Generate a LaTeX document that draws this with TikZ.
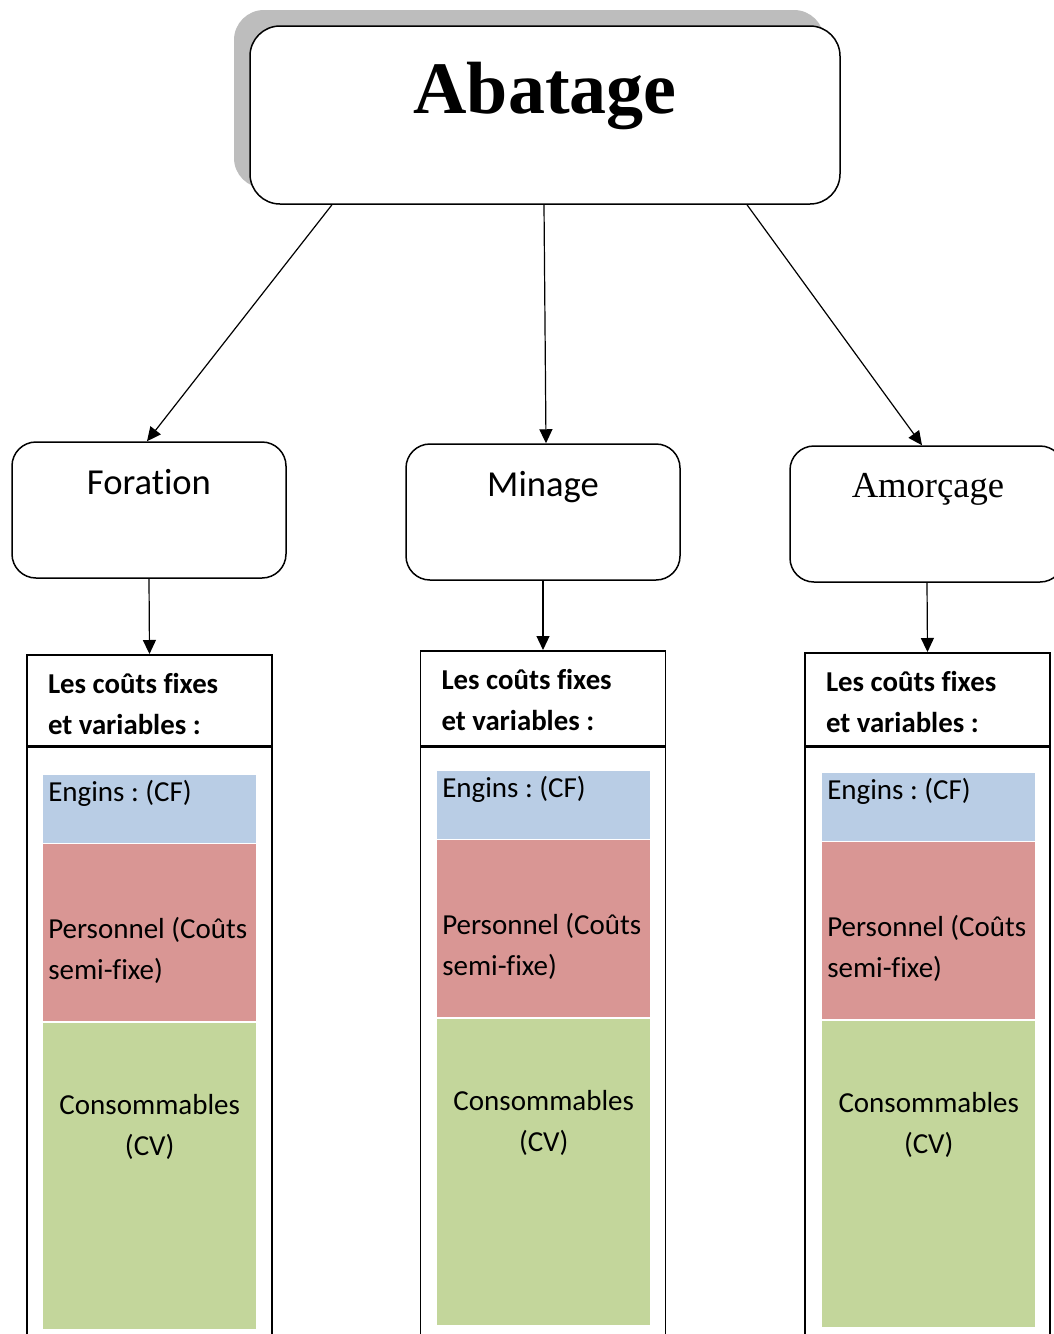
\documentclass[tikz,border=0pt]{standalone}
\usepackage{fontspec}
\setmainfont{Carlito}[Ligatures={NoCommon,NoContextual,NoRequired},
  Contextuals=NoAlternate]
\newfontfamily\timesfont{Liberation Serif}
\usetikzlibrary{arrows.meta,positioning,shadows}
\definecolor{blueCF}{HTML}{B9CDE5}
\definecolor{redSF}{HTML}{D99694}
\definecolor{greenCV}{HTML}{C3D69B}
\frenchspacing

\begin{document}
\begin{tikzpicture}[x=1pt,y=-1pt,line width=1.5pt,
  >={Triangle[length=14pt,width=13pt]},
  task/.style={draw,rounded corners=24pt,minimum width=274pt,
    minimum height=136pt},
  tasktext/.style={inner sep=0pt,anchor=base,
    font=\fontsize{36.6}{44}\selectfont},
  header/.style={draw,anchor=north,minimum width=245pt},
  hdtext/.style={anchor=west,inner sep=0pt,align=left,
    font=\bfseries\fontsize{28.8}{41}\selectfont},
  column/.style={draw,anchor=north,minimum width=245pt},
  block/.style={anchor=north west,minimum width=213pt,inner sep=0pt},
  cost/.style={inner sep=0pt,align=left,font=\fontsize{29}{41}\selectfont}]
  \useasboundingbox (0,0) rectangle (1054,1334);

  % main box
  \node[draw,fill=white,rounded corners=30pt,minimum width=590pt,
    minimum height=178pt,drop shadow={shadow xshift=-16pt,
    shadow yshift=16pt,fill=black!26,opacity=1}] (abatage) at (545,115) {};
  \node[inner sep=0pt,anchor=base,
    font=\timesfont\bfseries\fontsize{74}{80}\selectfont]
    (abatagetext) at (545,113) {Abatage};

  % the three tasks
  \node[task] (foration) at (149,510) {};
  \node[tasktext] at (149,494) {Foration};
  \node[task] (minage) at (543,512) {};
  \node[tasktext] at (543,496) {Minage};
  \node[task] (amorcage) at (927,514) {};
  \node[tasktext,font=\timesfont\fontsize{36.6}{44}\selectfont]
    at (928,497) {Amorçage};

  \draw[->,line width=1.2pt] ([xshift=-213pt]abatage.south)
    -- ([xshift=-2pt]foration.north);
  \draw[->,line width=1.2pt] ([xshift=-1pt]abatage.south)
    -- ([xshift=3pt]minage.north);
  \draw[->,line width=1.2pt] ([xshift=202pt]abatage.south)
    -- ([xshift=-5pt]amorcage.north);

  % costs of the foration
  \node[header,minimum height=91pt] (hdrA) at (149.5,654) {};
  \node[hdtext] at ([xshift=21pt,yshift=-4pt]hdrA.west)
    {Les coûts fixes\\et variables :};
  \node[column,minimum height=640pt] (colA) at (hdrA.south) {};
  \node[block,fill=blueCF,minimum height=68pt] (fixeA) at (42.5,774) {};
  \node[block,fill=redSF,minimum height=177pt] (semiA) at (fixeA.south west) {};
  \node[block,fill=greenCV,minimum height=306pt] (variA) at (semiA.south west) {};
  \node[cost,anchor=west] at ([xshift=5pt,yshift=-19pt]fixeA.north west)
    {Engins : (CF)};
  \node[cost,anchor=west] at ([xshift=5pt,yshift=-18pt]semiA.west)
    {Personnel (Coûts\\semi-fixe)};
  \node[cost,align=center] at ([yshift=-105pt]variA.north)
    {Consommables\\(CV)};
  \draw[->,line width=1.2pt] (foration.south) -- (hdrA.north);

  % costs of the minage
  \node[header,minimum height=95pt] (hdrB) at (543,650) {};
  \node[hdtext] at ([xshift=21pt,yshift=-2pt]hdrB.west)
    {Les coûts fixes\\et variables :};
  \node[column,minimum height=588pt] (colB) at (hdrB.south) {};
  \node[block,fill=blueCF,minimum height=68pt] (fixeB) at (436.5,770) {};
  \node[block,fill=redSF,minimum height=177pt] (semiB) at (fixeB.south west) {};
  \node[block,fill=greenCV,minimum height=306pt] (variB) at (semiB.south west) {};
  \node[cost,anchor=west] at ([xshift=5pt,yshift=-19pt]fixeB.north west)
    {Engins : (CF)};
  \node[cost,anchor=west] at ([xshift=5pt,yshift=-18pt]semiB.west)
    {Personnel (Coûts\\semi-fixe)};
  \node[cost,align=center] at ([yshift=-105pt]variB.north)
    {Consommables\\(CV)};
  \draw[->,line width=1.2pt] (minage.south) -- (hdrB.north);

  % costs of the amorcage
  \node[header,minimum height=93pt] (hdrC) at (927.5,652) {};
  \node[hdtext] at ([xshift=21pt,yshift=-3pt]hdrC.west)
    {Les coûts fixes\\et variables :};
  \node[column,minimum height=640pt] (colC) at (hdrC.south) {};
  \node[block,fill=blueCF,minimum height=68pt] (fixeC) at (821.5,772) {};
  \node[block,fill=redSF,minimum height=177pt] (semiC) at (fixeC.south west) {};
  \node[block,fill=greenCV,minimum height=306pt] (variC) at (semiC.south west) {};
  \node[cost,anchor=west] at ([xshift=5pt,yshift=-19pt]fixeC.north west)
    {Engins : (CF)};
  \node[cost,anchor=west] at ([xshift=5pt,yshift=-18pt]semiC.west)
    {Personnel (Coûts\\semi-fixe)};
  \node[cost,align=center] at ([yshift=-105pt]variC.north)
    {Consommables\\(CV)};
  \draw[->,line width=1.2pt] (amorcage.south) -- (hdrC.north);
\end{tikzpicture}
\end{document}
